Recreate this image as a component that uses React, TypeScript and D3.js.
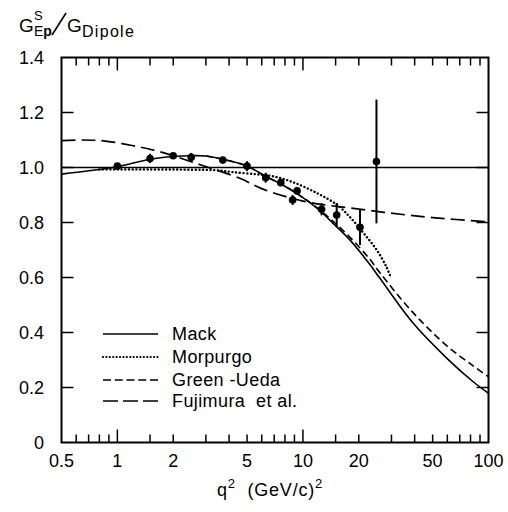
import React from "react";
import * as d3 from "d3";

const W = 508;
const H = 512;

// Mack (solid)
const mackQ = [0.5, 0.7, 1, 1.5, 2, 2.5, 3, 3.7, 5, 6.3, 7.6, 9.3, 12, 14.5, 18, 22.9, 26, 39, 59.5, 83, 100];
const mackV = [0.976, 0.988, 1.003, 1.03, 1.04, 1.043, 1.042, 1.03, 1.005, 0.968, 0.94, 0.905, 0.85, 0.798, 0.735, 0.648, 0.597, 0.436, 0.307, 0.22, 0.179];

// Morpurgo (dotted)
const morpQ = [0.8, 1.5, 2.5, 3.4, 4.2, 5.65, 6.9, 8.8, 11.9, 15.3, 17.9, 21.2, 25, 28.2, 29.4];
const morpV = [0.993, 0.993, 0.992, 0.99, 0.983, 0.975, 0.968, 0.947, 0.907, 0.864, 0.82, 0.762, 0.7, 0.638, 0.609];

// Green-Ueda (short dash)
const greenQ = [3, 3.7, 5, 6.3, 7.6, 9.3, 12, 14.5, 18, 22.9, 26, 39, 59.5, 83, 100];
const greenV = [1.042, 1.03, 1.005, 0.968, 0.94, 0.905, 0.852, 0.805, 0.745, 0.667, 0.617, 0.474, 0.352, 0.278, 0.239];

// Fujimura et al. (long dash)
const fujiQ = [0.5, 0.65, 0.84, 1.2, 1.7, 2.8, 4.6, 5.9, 8, 10, 12.8, 18, 29, 50, 100];
const fujiV = [1.098, 1.1, 1.097, 1.08, 1.057, 1.01, 0.96, 0.925, 0.895, 0.878, 0.865, 0.853, 0.835, 0.818, 0.802];

// Data points
const dataQ = [1.0, 1.5, 2.0, 2.5, 3.7, 5.0, 6.3, 7.6, 8.8, 9.3, 12.6, 15.2, 20.3, 24.9];
const dataV = [1.005, 1.033, 1.043, 1.037, 1.027, 1.005, 0.963, 0.945, 0.882, 0.915, 0.848, 0.827, 0.783, 1.022];
const dataErr = [0, 0.017, 0.008, 0.016, 0, 0.018, 0.018, 0.012, 0.018, 0.01, 0.022, 0.044, 0.065, 0.225];

const xMajorTicks = [1, 10];
const xMinorTicks = [0.6, 0.7, 0.8, 0.9, 1.5, 2, 3, 4, 5, 6, 7, 8, 9, 15, 20, 30, 40, 50, 60, 70, 80, 90];
const xTickLabels = [0.5, 1, 2, 5, 10, 20, 50, 100];
const xTickText = ["0.5", "1", "2", "5", "10", "20", "50", "100"];
const yTicks = [0, 0.2, 0.4, 0.6, 0.8, 1.0, 1.2, 1.4];
const yTickText = ["0", "0.2", "0.4", "0.6", "0.8", "1.0", "1.2", "1.4"];

const legendNames = ["Mack", "Morpurgo", "Green -Ueda", "Fujimura  et al."];

const FONT = "'Liberation Sans', Arial, sans-serif";

export default function App() {
  const L = 61.5, R = 488.5, T = 57.5, B = 442.5;
  const x = d3.scaleLog().domain([0.5, 100]).range([L, R]);
  const y = d3.scaleLinear().domain([0, 1.4]).range([B, T]);

  const line = d3
    .line<[number, number]>()
    .x((d) => x(d[0]))
    .y((d) => y(d[1]))
    .curve(d3.curveCatmullRom.alpha(0.5));

  const zip = (a: number[], b: number[]) => a.map((v, i) => [v, b[i]] as [number, number]);

  const styles = [
    { dash: undefined as string | undefined, w: 1.6, cap: "butt" },
    { dash: "0.1,3.6", w: 2.4, cap: "round" },
    { dash: "7,4", w: 1.6, cap: "butt" },
    { dash: "14,6", w: 1.7, cap: "butt" },
  ];
  const legendDash = [undefined, "0.1,3.3", "8,3.75", "15,5"];

  const curves = [
    zip(mackQ, mackV),
    zip(morpQ, morpV),
    zip(greenQ, greenV),
    zip(fujiQ, fujiV),
  ];

  const legendY = [334, 357, 380, 401];

  return (
    <svg
      width={W}
      height={H}
      style={{ position: "absolute", left: 0, top: 0, background: "#fff" }}
      fontFamily={FONT}
    >
      <rect x={0} y={0} width={W} height={H} fill="#fff" />
      {/* reference line at 1.0 */}
      <line x1={L} x2={R} y1={y(1)} y2={y(1)} stroke="#000" strokeWidth={1.6} />

      {/* curves */}
      {curves.map((c, i) => (
        <path
          key={i}
          d={line(c) || ""}
          fill="none"
          stroke="#000"
          strokeWidth={styles[i].w}
          strokeDasharray={styles[i].dash}
          strokeLinecap={styles[i].cap as any}
        />
      ))}

      {/* data */}
      {dataQ.map((q, i) => (
        <g key={i}>
          {dataErr[i] > 0 && (
            <line
              x1={x(q)}
              x2={x(q)}
              y1={y(dataV[i] - dataErr[i])}
              y2={y(dataV[i] + dataErr[i])}
              stroke="#000"
              strokeWidth={2}
            />
          )}
          <circle cx={x(q)} cy={y(dataV[i])} r={3.8} fill="#000" />
        </g>
      ))}

      {/* frame */}
      <rect x={L} y={T} width={R - L} height={B - T} fill="none" stroke="#000" strokeWidth={2} />

      {/* x ticks */}
      {xMinorTicks.map((t) => (
        <g key={"mn" + t}>
          <line x1={x(t)} x2={x(t)} y1={B} y2={B - 8} stroke="#000" strokeWidth={1.5} />
          <line x1={x(t)} x2={x(t)} y1={T} y2={T + 8} stroke="#000" strokeWidth={1.5} />
        </g>
      ))}
      {xMajorTicks.map((t) => (
        <g key={"mj" + t}>
          <line x1={x(t)} x2={x(t)} y1={B} y2={B - 13} stroke="#000" strokeWidth={1.5} />
          <line x1={x(t)} x2={x(t)} y1={T} y2={T + 13} stroke="#000" strokeWidth={1.5} />
        </g>
      ))}
      {/* y ticks */}
      {yTicks.slice(1, -1).map((t) => (
        <g key={"y" + t}>
          <line x1={L} x2={L + 12} y1={y(t)} y2={y(t)} stroke="#000" strokeWidth={1.5} />
          <line x1={R} x2={R - 12} y1={y(t)} y2={y(t)} stroke="#000" strokeWidth={1.5} />
        </g>
      ))}

      {/* x tick labels */}
      {xTickLabels.map((t, i) => (
        <text key={"xl" + t} x={x(t)} y={467} fontSize={18} textAnchor="middle" fill="#000">
          {xTickText[i]}
        </text>
      ))}
      {/* y tick labels */}
      {yTicks.map((t, i) => (
        <text key={"yl" + t} x={44} y={y(t)} fontSize={18} textAnchor="end" dominantBaseline="central" fill="#000">
          {yTickText[i]}
        </text>
      ))}

      {/* legend */}
      {legendNames.map((n, i) => (
        <g key={n}>
          <line
            x1={103}
            x2={158}
            y1={legendY[i]}
            y2={legendY[i]}
            stroke="#000"
            strokeWidth={i === 1 ? 2.2 : 1.6}
            strokeDasharray={legendDash[i]}
            strokeLinecap={i === 1 ? "round" : "butt"}
          />
          <text x={172} y={legendY[i] + 6} fontSize={18} fill="#000" letterSpacing={0.4} style={{ whiteSpace: "pre" }}>
            {n}
          </text>
        </g>
      ))}

      {/* y title */}
      <text x={19} y={32} fontSize={19} fill="#000">
        G
      </text>
      <text x={34} y={20} fontSize={13} fill="#000">
        S
      </text>
      <text x={34} y={36} fontSize={14} fill="#000">
        E<tspan fontWeight="bold">p</tspan>
      </text>
      <line x1={52} y1={35} x2={66} y2={13} stroke="#000" strokeWidth={1.6} />
      <text x={67} y={32} fontSize={19} fill="#000">
        G
      </text>
      <text x={82} y={37} fontSize={16} fill="#000" letterSpacing={1.3}>
        Dipole
      </text>

      {/* x title */}
      <text x={217} y={496} fontSize={18} fill="#000" letterSpacing={0.8} style={{ whiteSpace: "pre" }}>
        q<tspan fontSize={13} dy={-8}>2</tspan>
        <tspan dy={8}>{"  (GeV/c)"}</tspan>
        <tspan fontSize={13} dy={-8}>2</tspan>
      </text>
    </svg>
  );
}
